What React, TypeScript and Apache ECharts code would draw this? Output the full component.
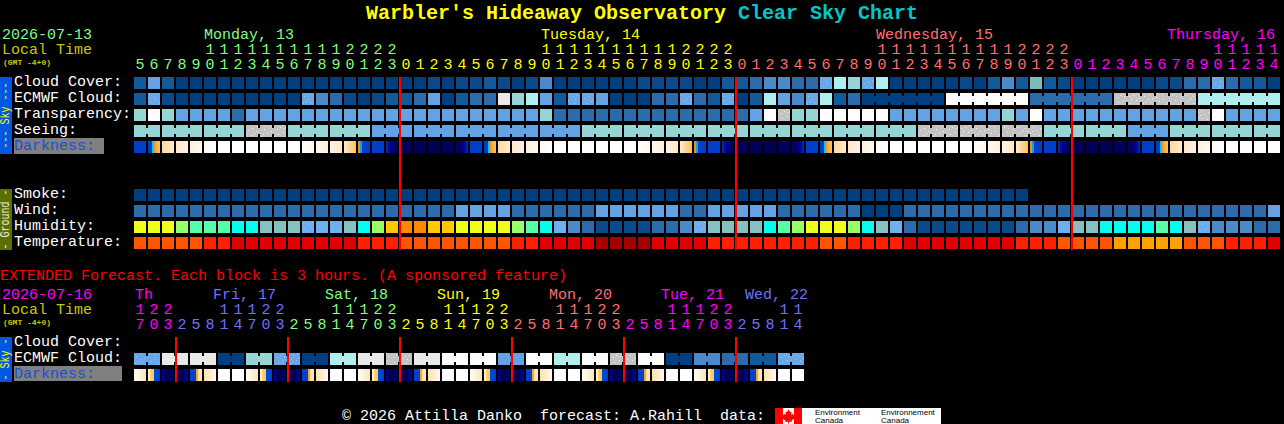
import React, { useEffect, useRef } from "react";
import * as echarts from "echarts";

// ---------- text ----------
const titleName = "Warbler's Hideaway Observatory";
const titleChart = "Clear Sky Chart";
const skyRows = ["Cloud Cover:", "ECMWF Cloud:", "Transparency:", "Seeing:", "Darkness:", "", "", "Smoke:", "Wind:", "Humidity:", "Temperature:"];
const extRows = ["Cloud Cover:", "ECMWF Cloud:", "Darkness:"];
const extendedNote = "EXTENDED Forecast. Each block is 3 hours. (A sponsored feature)";
const footer = "© 2026 Attilla Danko  forecast: A.Rahill  data:";

// ---------- hours ----------
const hours = [5,6,7,8,9,10,11,12,13,14,15,16,17,18,19,20,21,22,23,
  0,1,2,3,4,5,6,7,8,9,10,11,12,13,14,15,16,17,18,19,20,21,22,23,
  0,1,2,3,4,5,6,7,8,9,10,11,12,13,14,15,16,17,18,19,20,21,22,23,
  0,1,2,3,4,5,6,7,8,9,10,11,12,13,14];
const extHours = [17,20,23,
  2,5,8,11,14,17,20,23,
  2,5,8,11,14,17,20,23,
  2,5,8,11,14,17,20,23,
  2,5,8,11,14,17,20,23,
  2,5,8,11,14,17,20,23,
  2,5,8,11,14];
const midnights = [19, 43, 67];
const extMidnights = [3, 11, 19, 27, 35, 43];

// ---------- main forecast levels (1 value per hour) ----------
const cloudCover = [2,5,2,0,0,0,0,0,0,0,0,0,0,0,0,0,0,0,0,0,0,
  1,0,1,1,2,1,0,1,4,0,0,0,0,0,0,1,1,1,1,0,0,2,2,3,4,4,3,3,6,9,8,
  6,9,0,0,0,0,0,1,0,2,4,2,7,2,1,0,0,0,0,0,0,1,1,3,3,6,3,2,2,0];
const ecmwfCloud = [2,6,1,0,0,0,0,0,0,0,0,0,6,4,3,1,0,1,2,2,3,
  5,0,2,3,3,11,8,9,5,2,6,6,5,0,0,0,3,3,6,3,2,6,0,2,9,5,4,6,9,2,3,
  0,0,0,0,0,0,12,12,12,12,12,12,3,3,3,3,3,3,10,10,10,10,10,10,9,9,9,9,9,9];
const ecmwfRunEnds = [57, 63, 69, 75, 81];
const transparency = [8,12,8,5,5,5,5,3,5,5,5,5,5,5,5,5,5,5,5,5,5,
  5,5,5,5,5,5,5,5,8,3,3,3,3,3,3,3,3,3,3,3,3,3,3,5,12,10,8,8,12,12,12,
  12,12,5,5,5,5,5,5,5,5,8,5,12,5,5,5,5,5,5,5,5,5,5,5,10,12,5,5,5,5];
const seeingBlocks = [8,8,8,10,8,8,5,5,5,5,5,8,8,8,8,8,8,8,8,10,10,10,8,8,5,8,8,8];
const seeingBlockLengths = [2,3,3,3,3,3,3,3,3,3,3,3,3,3,3,3,3,3,3,3,3,3,3,3,3,3,3,2];
const darkness = ["B","Da","M1","M2","M3","M4","W","W","W","W","W","W","E4","E3","E2","E1","Du","B","BN",
  "N","N","N","N","NB","B","Da","M1","M2","M3","M4","W","W","W","W","W","W","E4","E3","E2","E1","Du","B","BN",
  "N","N","N","N","NB","B","Da","M1","M2","M3","M4","W","W","W","W","W","W","E4","E3","E2","E1","Du","B","BN",
  "N","N","N","N","NB","B","Da","M1","M2","M3","M4","W","W","W","W"];
const smoke = [0,0,0,0,0,0,0,0,0,0,0,0,0,0,0,0,0,0,0,0,0,0,0,0,0,0,0,0,0,0,0,0,
  0,0,0,0,0,0,0,0,0,0,0,0,0,0,0,0,0,0,0,0,0,0,0,0,0,0,0,0,0,0,0,0];
const wind = [3,3,3,3,3,3,3,3,3,3,3,3,3,3,3,3,3,3,3,3,3,3,3,
  5,5,5,5,3,3,3,3,3,3,5,5,5,5,5,5,3,3,5,5,5,5,5,3,3,3,3,3,3,
  0,0,0,3,3,3,3,3,3,3,3,3,3,3,3,3,3,3,3,3,3,3,3,3,3,3,3,3,3,5];
const humidity = [8,8,8,7,6,6,6,5,5,4,4,4,3,3,3,4,5,7,9,10,10,
  9,9,8,8,8,8,7,6,5,3,2,1,0,0,0,0,1,1,2,3,4,4,4,4,5,6,7,8,8,8,7,
  5,4,3,1,0,0,0,0,0,0,0,1,2,2,3,4,4,5,5,5,5,6,5,4,3,2,2,2,1,1];
const temperature = [3,3,3,3,3,2,2,1,1,1,1,1,1,1,1,1,2,2,2,3,3,
  3,3,3,3,3,3,2,2,1,1,1,1,0,0,0,0,1,1,1,1,2,2,2,2,2,2,2,2,3,3,2,
  2,2,2,1,1,1,1,1,1,1,1,2,2,2,3,3,3,3,4,4,4,4,4,3,3,3,2,2,2,1];

// ---------- extended forecast levels ----------
const extEcmwfBlocks = [6,11,11,0,8,6,0,9,11,10,11,12,12,5,12,9,12,10,12,0,4,3,2,6];
const extDarkness = ["XE","XDu","XN1","XN2","XDa","XM","W","W","XE","XDu","XN1","XN2","XDa","XM","W","W",
  "XE","XDu","XN1","XN2","XDa","XM","W","W","XE","XDu","XN1","XN2","XDa","XM","W","W",
  "XE","XDu","XN1","XN2","XDa","XM","W","W","XE","XDu","XN1","XN2","XDa","XM","W","W"];

// ---------- day headers ----------
const dayLabels = ["Monday, 13", "Tuesday, 14", "Wednesday, 15", "Thursday, 16"];
const extDayLabels = ["Th", "Fri, 17", "Sat, 18", "Sun, 19", "Mon, 20", "Tue, 21", "Wed, 22"];

// ---------- styles ----------
const dayLabelX = [204, 541, 876, 1167];
const extDayLabelX = [135, 213, 325, 437, 549, 661, 745];
const GREEN = "#80ff80", YEL = "#ffff00", SALMON = "#ff7070", MAG = "#ff00ff", PERI = "#7070ff", OLIVE = "#c8c800";
const dayColors = [GREEN, YEL, SALMON, MAG];
const extDayColors = [MAG, PERI, GREEN, YEL, SALMON, MAG, PERI];
const MONO = "'Liberation Mono', monospace";
const F15 = `15px ${MONO}`;

const cloudPalette: any = {
  0: { c: "#003f7f" }, 1: { c: "#0a4a8a" }, 2: { c: "#135a9a" }, 3: { c: "#2c6cad" }, 4: { c: "#4a8acb" },
  5: { c: "#63a3e3" }, 6: { c: "#68a8e8", dot: "#8fd0ec" }, 7: { c: "#7fbaba" }, 8: { c: "#95d5d5" }, 9: { c: "#aeeeee" },
  10: { c: "#c3c3c3", dot: "#f2f2f2" }, 11: { c: "#e9e9e9" }, 12: { c: "#fdfdfd" },
};
const humidityPalette: any = {
  0: { c: "#0a4a8a" }, 1: { c: "#2c6cad" }, 2: { c: "#4a8acb" }, 3: { c: "#70b0f0", dot: "#5a9ae0" }, 4: { c: "#86c0c0" },
  5: { c: "#00ffee" }, 6: { c: "#55ffaa" }, 7: { c: "#99ff66" }, 8: { c: "#eeff1a" }, 9: { c: "#ffc800" }, 10: { c: "#ff8800" },
};
const temperaturePalette: any = {
  0: { c: "#a50000" }, 1: { c: "#e00000" }, 2: { c: "#ff2000" }, 3: { c: "#ff5500" }, 4: { c: "#ffa000" },
};
const grad = (...stops: [number, string][]) =>
  new echarts.graphic.LinearGradient(0, 0, 1, 0, stops.map(([offset, color]) => ({ offset, color })));
const darkPalette: any = {
  B: { c: "#0040c8" }, N: { c: "#00005a" }, W: { c: "#ffffff" },
  Da: { c: grad([0, "#0040c8"], [0.33, "#0040c8"], [0.33, "#00c8ff"], [0.5, "#00c8ff"], [0.5, "#f09a20"], [1, "#ffc070"]) },
  M1: { c: grad([0, "#ffd898"], [1, "#ffeccc"]) }, M2: { c: grad([0, "#ffe8c8"], [1, "#fff2e0"]) },
  M3: { c: grad([0, "#fff0dc"], [1, "#fff8ee"]) }, M4: { c: grad([0, "#fff8f0"], [1, "#ffffff"]) },
  E4: { c: grad([0, "#ffffff"], [1, "#fff8f0"]) }, E3: { c: grad([0, "#fff8ee"], [1, "#fff0dc"]) },
  E2: { c: grad([0, "#fff2e0"], [1, "#ffe8c8"]) }, E1: { c: grad([0, "#ffecc8"], [1, "#ffbe60"]) },
  Du: { c: grad([0, "#f09010"], [0.17, "#f09010"], [0.17, "#00a8f0"], [0.3, "#00a8f0"], [0.3, "#0040c8"], [1, "#0040c8"]) },
  BN: { c: grad([0, "#0030b8"], [0.35, "#000090"], [0.7, "#000068"], [1, "#00005a"]) },
  NB: { c: grad([0, "#00005a"], [0.3, "#000068"], [0.65, "#000090"], [1, "#0030b8"]) },
  XE: { c: grad([0, "#fffdfa"], [1, "#ffe4bc"]) },
  XDu: { c: grad([0, "#fff0d8"], [0.17, "#fff0d8"], [0.17, "#ffd27a"], [0.5, "#ffc050"], [0.5, "#0050d8"], [1, "#0040c8"]) },
  XN1: { c: grad([0, "#0000a0"], [0.17, "#0000a0"], [0.17, "#00005a"], [1, "#00005a"]) },
  XN2: { c: grad([0, "#00005a"], [0.83, "#00005a"], [0.83, "#0000a0"], [1, "#0000a0"]) },
  XDa: { c: grad([0, "#0040c8"], [0.5, "#0040c8"], [0.5, "#ffa030"], [0.67, "#ffa030"], [0.67, "#ffe0a0"], [1, "#ffe8c0"]) },
  XM: { c: grad([0, "#ffe0b0"], [1, "#fffaf2"]) },
};
const SPECKLE = [[2, 3], [7, 1], [10, 5], [4, 8], [8, 9], [1, 10], [6, 6]];

// ---------- helpers ----------
const seeing: number[] = [];
const seeingJoin: boolean[] = [];
seeingBlocks.forEach((v, b) => {
  for (let i = 0; i < seeingBlockLengths[b]; i++) {
    seeing.push(v);
    seeingJoin.push(i < seeingBlockLengths[b] - 1);
  }
});
const ecmwfJoin = ecmwfCloud.map((_, k) => k >= 52 && !ecmwfRunEnds.includes(k));
const extEcmwf: number[] = [];
const extJoin: boolean[] = [];
extEcmwfBlocks.forEach((v) => {
  extEcmwf.push(v, v);
  extJoin.push(true, false);
});

function cellSeries(ax: number, row: number, values: any[], palette: any, joins?: boolean[]) {
  return {
    type: "custom",
    xAxisIndex: ax === 0 ? 0 : 2,
    yAxisIndex: ax,
    silent: true,
    encode: { x: 0, y: 1 },
    data: values.map((v, k) => [k, row, k, joins && joins[k] ? 1 : 0]),
    renderItem: (_: any, api: any) => {
      const k = api.value(0);
      const [cx, cy] = api.coord([k, api.value(1)]);
      const x = Math.round(cx - 6), y = Math.round(cy - 6);
      const p = palette[values[k]];
      const children: any[] = [{ type: "rect", shape: { x, y, width: 12, height: 12 }, style: { fill: p.c } }];
      if (api.value(3)) {
        children.push({ type: "rect", shape: { x: x + 12, y: y + 3, width: 2, height: 6 }, style: { fill: p.c } });
      }
      if (p.dot) {
        SPECKLE.forEach(([dx, dy]) => {
          children.push({
            type: "rect",
            shape: { x: x + (dx + k * 5) % 12, y: y + (dy + k * 3) % 12, width: 1, height: 1 },
            style: { fill: p.dot },
          });
        });
      }
      return { type: "group", children };
    },
  };
}

function lineSeries(ax: number, cols: number[], lastRow: number) {
  return {
    type: "custom",
    xAxisIndex: ax === 0 ? 0 : 2,
    yAxisIndex: ax,
    silent: true,
    z: 10,
    encode: { x: 0 },
    data: cols.map((k) => [k, 0]),
    renderItem: (_: any, api: any) => {
      const k = api.value(0);
      const [cx, cy0] = api.coord([k, 0]);
      const [, cy1] = api.coord([k, lastRow]);
      return {
        type: "rect",
        shape: { x: Math.round(cx - 7), y: Math.round(cy0 - 6), width: 2, height: Math.round(cy1 - cy0 + 13) },
        style: { fill: "#ff0000" },
      };
    },
  };
}

const colorAt = (colors: string[], firstBreak: number[]) => (_: any, i: number) => {
  let day = 0;
  firstBreak.forEach((b) => { if (i >= b) day++; });
  return colors[day];
};

function hourAxes(list: number[], gridIndex: number, breaks: number[], colors: string[], margin: number) {
  const common = {
    type: "category", gridIndex, position: "top",
    axisLine: { show: false }, axisTick: { show: false }, splitLine: { show: false },
  };
  const label = {
    interval: 0, fontFamily: MONO, fontSize: 15, margin,
    color: colorAt(colors, breaks),
  };
  return [
    { ...common, data: list.map((h) => String(h % 10)), axisLabel: label },
    { ...common, offset: 15, data: list.map((h) => (h >= 10 ? String(Math.floor(h / 10)) : "")), axisLabel: label },
  ];
}

function rowAxis(rows: string[], gridIndex: number) {
  return {
    type: "category", gridIndex, inverse: true, data: rows,
    axisLine: { show: false }, axisTick: { show: false }, splitLine: { show: false },
    axisLabel: {
      interval: 0, align: "left", margin: 119, color: "#ffffff",
      fontFamily: MONO, fontSize: 15, padding: [0, 0, 2, 0],
      formatter: (v: string) => (v === "Darkness:" ? `{dark|${v}}` : v),
      rich: {
        dark: { color: "#1550d8", fontFamily: MONO, fontSize: 15 },
      },
    },
  };
}

const txt = (text: string, x: number, y: number, fill: string, font = F15) => ({
  type: "text", x, y, silent: true, style: { text, fill, font, align: "left", verticalAlign: "middle" },
});
const sideBar = (y: number, h: number, fill: string, text: string, color: string) => [
  { type: "rect", shape: { x: 0, y, width: 12, height: h }, style: { fill }, silent: true },
  {
    type: "text", x: 6, y: y + h / 2, rotation: Math.PI / 2, scaleY: 1.2, silent: true,
    style: { text, fill: color, font: `10px ${MONO}`, align: "center", verticalAlign: "middle" },
  },
];
const leaf = [[788.5,409.5],[790,412],[791.5,411.5],[791,415],[792.5,413.5],[793,415],[795,414.5],[794.3,417],[795,418],[791.5,420.5],[791.8,422],[789,421.5],[789,423.5],[788,423.5],[788,421.5],[785.2,422],[785.5,420.5],[782,418],[782.7,417],[782,414.5],[784,415],[784.5,413.5],[786,415],[785.5,411.5],[787,412]];

export default function App() {
  const ref = useRef<HTMLDivElement>(null);
  useEffect(() => {
    document.body.style.margin = "0";
    document.body.style.background = "#000";
    document.body.style.overflow = "hidden";
    const chart = echarts.init(ref.current!, null, { renderer: "svg" });
    const option: any = {
      animation: false,
      backgroundColor: "#000000",
      title: {
        left: 366, top: 3, padding: 0,
        text: `{y|${titleName} }{c|${titleChart}}`,
        textStyle: {
          rich: {
            y: { color: "#ffff00", fontFamily: MONO, fontSize: 20, fontWeight: "bold" },
            c: { color: "#00c8c8", fontFamily: MONO, fontSize: 20, fontWeight: "bold" },
          },
        },
      },
      grid: [
        { left: 133, top: 75, width: 82 * 14, height: 11 * 16 },
        { left: 133, top: 335, width: 48 * 14, height: 3 * 16 },
      ],
      xAxis: [
        ...hourAxes(hours, 0, midnights, dayColors, 2),
        ...hourAxes(extHours, 1, extMidnights, extDayColors, 2),
      ],
      yAxis: [rowAxis(skyRows, 0), rowAxis(extRows, 1)],
      series: [
        cellSeries(0, 0, cloudCover, cloudPalette),
        cellSeries(0, 1, ecmwfCloud, cloudPalette, ecmwfJoin),
        cellSeries(0, 2, transparency, cloudPalette),
        cellSeries(0, 3, seeing, cloudPalette, seeingJoin),
        cellSeries(0, 4, darkness, darkPalette),
        cellSeries(0, 7, smoke, cloudPalette),
        cellSeries(0, 8, wind, cloudPalette),
        cellSeries(0, 9, humidity, humidityPalette),
        cellSeries(0, 10, temperature, temperaturePalette),
        lineSeries(0, midnights, 10),
        cellSeries(1, 1, extEcmwf, cloudPalette, extJoin),
        cellSeries(1, 2, extDarkness, darkPalette),
        lineSeries(1, extMidnights, 2),
      ],
      graphic: [
        { type: "rect", z: -1, silent: true, shape: { x: 14, y: 138, width: 90, height: 16 }, style: { fill: "#808080" } },
        { type: "rect", z: -1, silent: true, shape: { x: 14, y: 366, width: 108, height: 15 }, style: { fill: "#808080" } },
        ...sideBar(77, 77, "#0058e0", "--- Sky ---", "#ffff00"),
        ...sideBar(189, 61, "#5a7000", "- Ground -", "#f0f0e0"),
        ...sideBar(337, 45, "#0058e0", "- Sky -", "#ffff00"),
        txt("2026-07-13", 2, 35, GREEN),
        txt("Local Time", 2, 50, OLIVE),
        txt("(GMT -4+0)", 3, 62, OLIVE, `bold 8px ${MONO}`),
        ...dayLabels.map((d, i) => txt(d, dayLabelX[i], 35, dayColors[i])),
        txt(extendedNote, 0, 276, "#ff0000"),
        txt("2026-07-16", 2, 295, MAG),
        txt("Local Time", 2, 310, OLIVE),
        txt("(GMT -4+0)", 3, 322, OLIVE, `bold 8px ${MONO}`),
        ...extDayLabels.map((d, i) => txt(d, extDayLabelX[i], 295, extDayColors[i])),
        txt(footer, 342, 416, "#ffffff"),
        { type: "rect", silent: true, shape: { x: 775, y: 408, width: 166, height: 16 }, style: { fill: "#ffffff" } },
        { type: "rect", silent: true, shape: { x: 775, y: 408, width: 8, height: 16 }, style: { fill: "#ff0000" } },
        { type: "rect", silent: true, shape: { x: 794, y: 408, width: 8, height: 16 }, style: { fill: "#ff0000" } },
        { type: "polygon", silent: true, shape: { points: leaf }, style: { fill: "#ff0000" } },
        { type: "text", silent: true, x: 815, y: 412, style: { text: "Environment", fill: "#000", font: "8px 'Liberation Sans'", verticalAlign: "middle" } },
        { type: "text", silent: true, x: 815, y: 420, style: { text: "Canada", fill: "#000", font: "8px 'Liberation Sans'", verticalAlign: "middle" } },
        { type: "text", silent: true, x: 881, y: 412, style: { text: "Environnement", fill: "#000", font: "8px 'Liberation Sans'", verticalAlign: "middle" } },
        { type: "text", silent: true, x: 881, y: 420, style: { text: "Canada", fill: "#000", font: "8px 'Liberation Sans'", verticalAlign: "middle" } },
      ],
    };
    chart.setOption(option);
    return () => chart.dispose();
  }, []);
  return <div ref={ref} style={{ width: 1284, height: 424, background: "#000" }} />;
}
